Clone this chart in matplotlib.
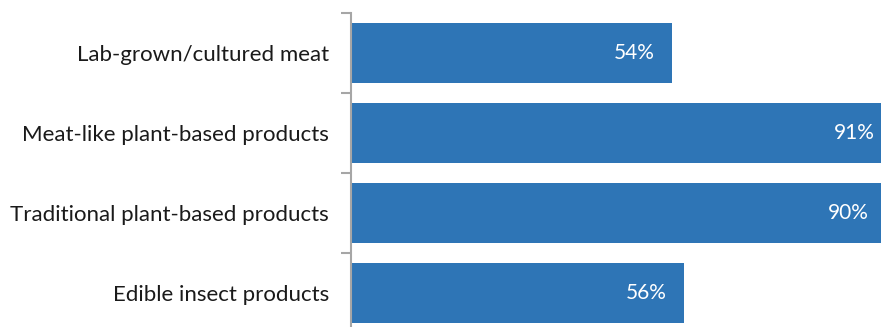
import matplotlib
matplotlib.use("Agg")
import matplotlib.pyplot as plt

# data
categories = ["Lab-grown/cultured meat", "Meat-like plant-based products",
              "Traditional plant-based products", "Edible insect products"]
values = [54, 91, 90, 56]
value_labels = ["54%", "91%", "90%", "56%"]

bar_color = "#2E75B6"
axis_color = "#A6A6A6"

plt.rcParams["font.family"] = ["Lato", "DejaVu Sans"]

fig = plt.figure(figsize=(8.81, 3.27), dpi=100)
# axes runs off the bottom/right edge like the cropped original
ax = fig.add_axes([351 / 881, -6 / 327, 1 - 351 / 881, 320 / 327])

pos = list(range(len(categories)))
ax.barh(pos, values, height=0.76, color=bar_color)
ax.set_ylim(len(categories) - 0.5, -0.5)
ax.set_xlim(0, 89.1)

for p, v, lab in zip(pos, values, value_labels):
    ax.text(v - 2.9, p, lab, ha="right", va="center", color="white", fontsize=15)

ax.set_yticks(pos)
ax.set_yticklabels(categories, fontsize=16, color="#1a1a1a")
ax.tick_params(axis="y", which="major", length=0, pad=16)
ax.set_yticks([p - 0.5 for p in pos] + [len(pos) - 0.5], minor=True)
ax.tick_params(axis="y", which="minor", length=7, width=1.5, color=axis_color)
ax.set_xticks([])

for s in ["top", "right", "bottom"]:
    ax.spines[s].set_visible(False)
ax.spines["left"].set_color(axis_color)
ax.spines["left"].set_linewidth(1.5)

fig.savefig("out.png", dpi=100)
